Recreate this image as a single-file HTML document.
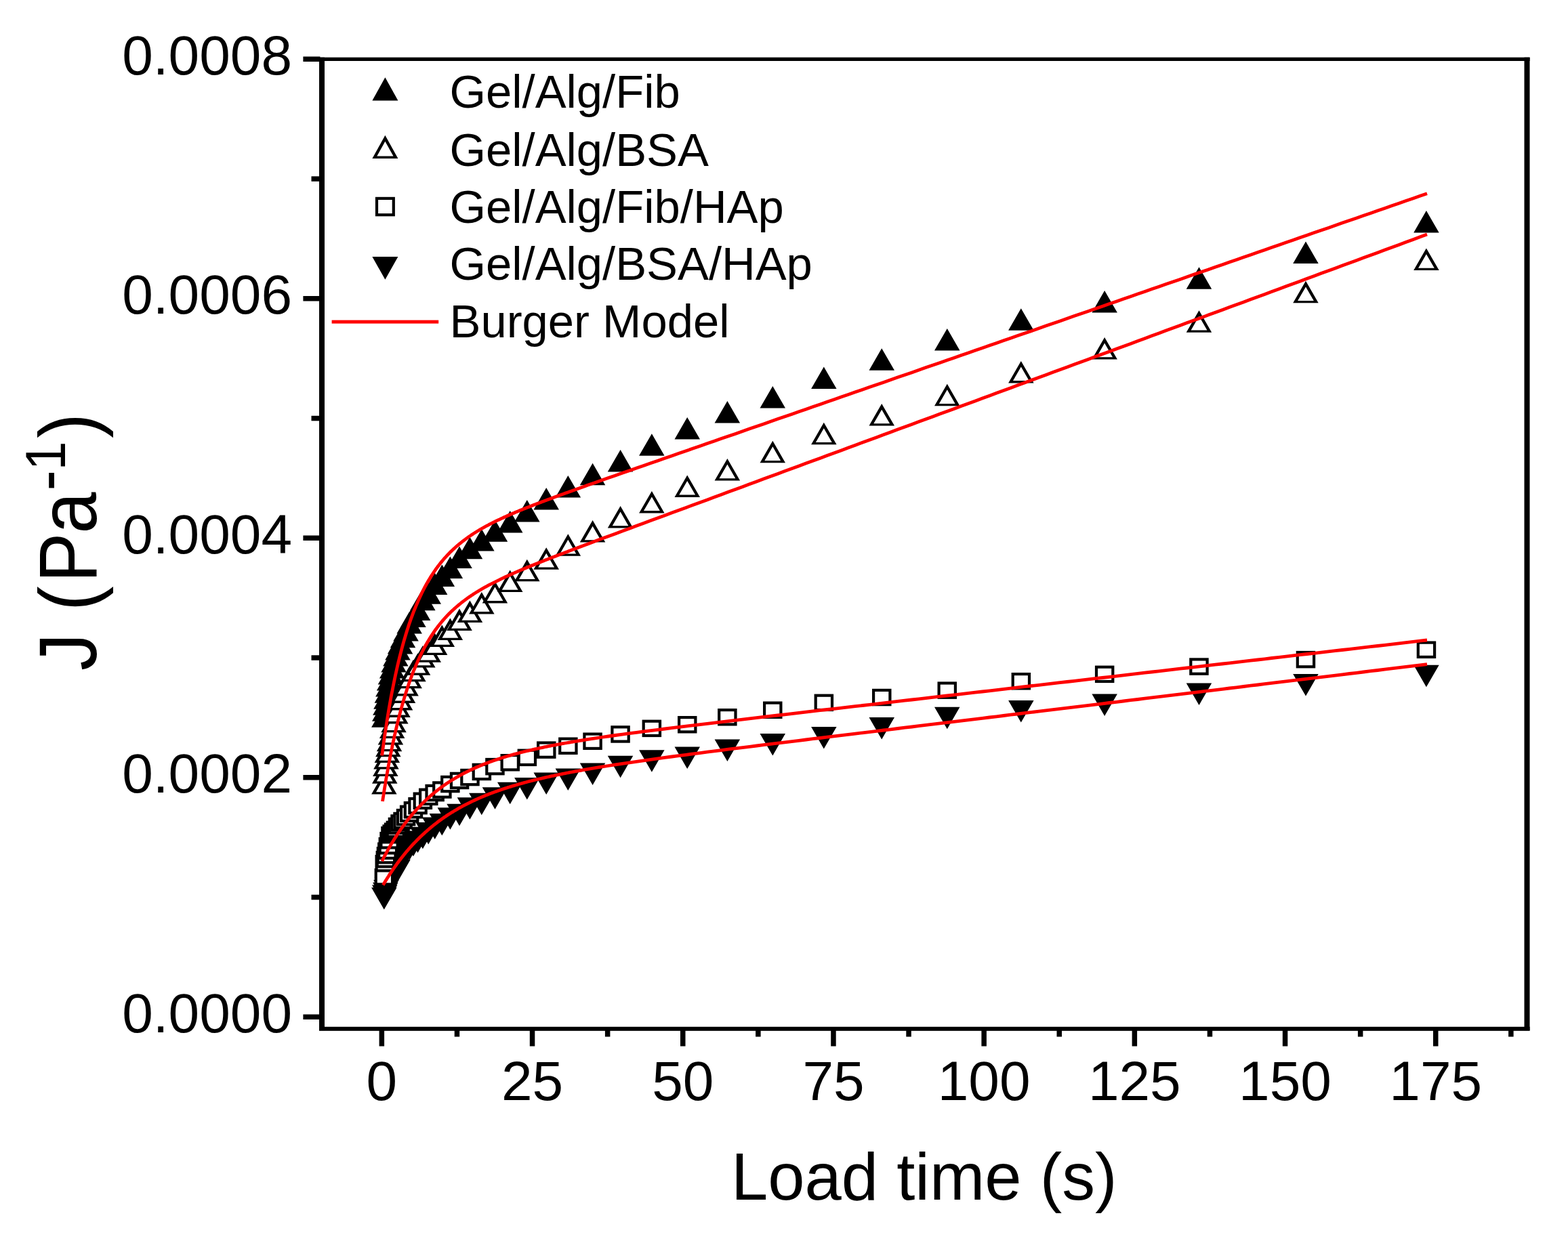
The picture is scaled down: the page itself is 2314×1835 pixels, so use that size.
<!DOCTYPE html>
<html><head><meta charset="utf-8"><style>
html,body{margin:0;padding:0;background:#fff;}
svg{display:block;}
text{font-family:"Liberation Sans",Arial,sans-serif;fill:#000;}
.tk{font-size:82px;}
.lg{font-size:68.8px;}
.xt{font-size:97.6px;}
.yt{font-size:120px;}
.sup{font-size:84px;}
</style></head><body>
<svg width="2314" height="1835" viewBox="0 0 2314 1835">
<rect width="100%" height="100%" fill="#fff"/>
<rect x="471" y="84.7" width="8" height="1436.4" fill="#000"/>
<rect x="471" y="84.7" width="1786.6" height="5.3" fill="#000"/>
<rect x="2249.5" y="84.7" width="8" height="1436.4" fill="#000"/>
<rect x="471" y="1515.8" width="1786.6" height="6" fill="#000"/>
<rect x="447.4" y="1497.5" width="25" height="7.5" fill="#000"/>
<rect x="459.5" y="1320.8" width="13" height="7.5" fill="#000"/>
<rect x="447.4" y="1144" width="25" height="7.5" fill="#000"/>
<rect x="459.5" y="967.3" width="13" height="7.5" fill="#000"/>
<rect x="447.4" y="790.5" width="25" height="7.5" fill="#000"/>
<rect x="459.5" y="613.8" width="13" height="7.5" fill="#000"/>
<rect x="447.4" y="437" width="25" height="7.5" fill="#000"/>
<rect x="459.5" y="260.3" width="13" height="7.5" fill="#000"/>
<rect x="447.4" y="83.5" width="25" height="7.5" fill="#000"/>
<rect x="559.6" y="1520" width="7.5" height="24.5" fill="#000"/>
<rect x="670.7" y="1520" width="7.5" height="10.5" fill="#000"/>
<rect x="781.8" y="1520" width="7.5" height="24.5" fill="#000"/>
<rect x="892.9" y="1520" width="7.5" height="10.5" fill="#000"/>
<rect x="1004" y="1520" width="7.5" height="24.5" fill="#000"/>
<rect x="1115.1" y="1520" width="7.5" height="10.5" fill="#000"/>
<rect x="1226.2" y="1520" width="7.5" height="24.5" fill="#000"/>
<rect x="1337.3" y="1520" width="7.5" height="10.5" fill="#000"/>
<rect x="1448.4" y="1520" width="7.5" height="24.5" fill="#000"/>
<rect x="1559.5" y="1520" width="7.5" height="10.5" fill="#000"/>
<rect x="1670.6" y="1520" width="7.5" height="24.5" fill="#000"/>
<rect x="1781.7" y="1520" width="7.5" height="10.5" fill="#000"/>
<rect x="1892.8" y="1520" width="7.5" height="24.5" fill="#000"/>
<rect x="2003.9" y="1520" width="7.5" height="10.5" fill="#000"/>
<rect x="2115" y="1520" width="7.5" height="24.5" fill="#000"/>
<rect x="2226.1" y="1520" width="7.5" height="10.5" fill="#000"/>
<text x="431" y="1523.8" text-anchor="end" class="tk">0.0000</text>
<text x="431" y="1170.3" text-anchor="end" class="tk">0.0002</text>
<text x="431" y="816.8" text-anchor="end" class="tk">0.0004</text>
<text x="431" y="463.3" text-anchor="end" class="tk">0.0006</text>
<text x="431" y="109.8" text-anchor="end" class="tk">0.0008</text>
<text x="563.4" y="1624" text-anchor="middle" class="tk">0</text>
<text x="785.6" y="1624" text-anchor="middle" class="tk">25</text>
<text x="1007.8" y="1624" text-anchor="middle" class="tk">50</text>
<text x="1230" y="1624" text-anchor="middle" class="tk">75</text>
<text x="1452.1" y="1624" text-anchor="middle" class="tk">100</text>
<text x="1674.3" y="1624" text-anchor="middle" class="tk">125</text>
<text x="1896.5" y="1624" text-anchor="middle" class="tk">150</text>
<text x="2118.7" y="1624" text-anchor="middle" class="tk">175</text>
<text x="1079" y="1771" class="xt">Load time (s)</text>
<text transform="translate(142,990) rotate(-90) scale(0.92,1)" class="yt"><tspan x="0" y="0">J </tspan><tspan x="95.6">(</tspan><tspan x="141.3">P</tspan><tspan x="219.9">a</tspan><tspan x="288.7" y="-39.5" style="font-size:100px">-</tspan><tspan x="321.3" y="-46.2" class="sup">1</tspan><tspan x="372.8" y="0">)</tspan></text>
<g><polygon points="566.8,1041.3 585.6,1073.8 548.1,1073.8" fill="#000"/><polygon points="567.8,1032.3 586.5,1064.8 549,1064.8" fill="#000"/><polygon points="568.8,1023.2 587.6,1055.7 550.1,1055.7" fill="#000"/><polygon points="570,1014.2 588.7,1046.7 551.2,1046.7" fill="#000"/><polygon points="571.3,1005.2 590.1,1037.7 552.6,1037.7" fill="#000"/><polygon points="572.8,996.1 591.6,1028.6 554.1,1028.6" fill="#000"/><polygon points="574.5,987.1 593.3,1019.6 555.8,1019.6" fill="#000"/><polygon points="576.4,978 595.2,1010.5 557.7,1010.5" fill="#000"/><polygon points="578.6,969 597.4,1001.5 559.9,1001.5" fill="#000"/><polygon points="581.1,960 599.8,992.5 562.3,992.5" fill="#000"/><polygon points="583.8,950.9 602.6,983.4 565.1,983.4" fill="#000"/><polygon points="587,941.9 605.7,974.4 568.2,974.4" fill="#000"/><polygon points="590.5,932.9 609.3,965.4 571.8,965.4" fill="#000"/><polygon points="594.5,923.7 613.3,956.2 575.8,956.2" fill="#000"/><polygon points="599.1,914 617.8,946.5 580.3,946.5" fill="#000"/><polygon points="604.2,903.1 622.9,935.6 585.4,935.6" fill="#000"/><polygon points="610,893.6 628.7,926.1 591.2,926.1" fill="#000"/><polygon points="616.5,883.6 635.3,916.1 597.8,916.1" fill="#000"/><polygon points="623.9,868.7 642.6,901.2 605.1,901.2" fill="#000"/><polygon points="632.2,859.2 651,891.7 613.5,891.7" fill="#000"/><polygon points="641.7,845.6 660.4,878.1 622.9,878.1" fill="#000"/><polygon points="652.3,833.5 671.1,866 633.6,866" fill="#000"/><polygon points="664.4,821.4 683.1,853.9 645.6,853.9" fill="#000"/><polygon points="678,806.4 696.8,838.9 659.3,838.9" fill="#000"/><polygon points="693.4,792.7 712.2,825.2 674.7,825.2" fill="#000"/><polygon points="710.8,781.1 729.6,813.6 692.1,813.6" fill="#000"/><polygon points="730.5,767.3 749.2,799.8 711.7,799.8" fill="#000"/><polygon points="752.7,753.9 771.5,786.4 734,786.4" fill="#000"/><polygon points="777.8,738 796.6,770.5 759.1,770.5" fill="#000"/><polygon points="806.2,720 825,752.5 787.5,752.5" fill="#000"/><polygon points="838.3,701.9 857.1,734.4 819.6,734.4" fill="#000"/><polygon points="874.6,683.8 893.3,716.3 855.8,716.3" fill="#000"/><polygon points="915.6,663.9 934.3,696.4 896.8,696.4" fill="#000"/><polygon points="961.9,640.3 980.6,672.8 943.1,672.8" fill="#000"/><polygon points="1014.2,616 1033,648.5 995.5,648.5" fill="#000"/><polygon points="1073.4,592.1 1092.1,624.6 1054.6,624.6" fill="#000"/><polygon points="1140.3,570.1 1159,602.6 1121.5,602.6" fill="#000"/><polygon points="1215.8,541.4 1234.6,573.9 1197.1,573.9" fill="#000"/><polygon points="1301.2,514.3 1320,546.8 1282.5,546.8" fill="#000"/><polygon points="1397.8,485 1416.5,517.5 1379,517.5" fill="#000"/><polygon points="1506.8,455.2 1525.6,487.7 1488.1,487.7" fill="#000"/><polygon points="1630.1,428.9 1648.9,461.4 1611.4,461.4" fill="#000"/><polygon points="1769.5,394.3 1788.2,426.8 1750.7,426.8" fill="#000"/><polygon points="1927,356.4 1945.7,388.9 1908.2,388.9" fill="#000"/><polygon points="2104.9,311 2123.7,343.5 2086.2,343.5" fill="#000"/></g>
<g><polygon points="566.8,1140 585.6,1172.5 548.1,1172.5" fill="#000"/><polygon points="566.8,1148.6 578.7,1169.2 555,1169.2" fill="#fff"/><polygon points="567.8,1124.2 586.5,1156.7 549,1156.7" fill="#000"/><polygon points="567.8,1132.8 579.6,1153.4 555.9,1153.4" fill="#fff"/><polygon points="568.8,1113.6 587.6,1146.1 550.1,1146.1" fill="#000"/><polygon points="568.8,1122.2 580.7,1142.8 556.9,1142.8" fill="#fff"/><polygon points="570,1103.1 588.7,1135.6 551.2,1135.6" fill="#000"/><polygon points="570,1111.7 581.9,1132.3 558.1,1132.3" fill="#fff"/><polygon points="571.3,1093.5 590.1,1126 552.6,1126" fill="#000"/><polygon points="571.3,1102.1 583.2,1122.7 559.4,1122.7" fill="#fff"/><polygon points="572.8,1084.7 591.6,1117.2 554.1,1117.2" fill="#000"/><polygon points="572.8,1093.3 584.7,1113.9 560.9,1113.9" fill="#fff"/><polygon points="574.5,1076.8 593.3,1109.3 555.8,1109.3" fill="#000"/><polygon points="574.5,1085.4 586.4,1106 562.6,1106" fill="#fff"/><polygon points="576.4,1067.1 595.2,1099.6 557.7,1099.6" fill="#000"/><polygon points="576.4,1075.7 588.3,1096.3 564.6,1096.3" fill="#fff"/><polygon points="578.6,1057.5 597.4,1090 559.9,1090" fill="#000"/><polygon points="578.6,1066.1 590.5,1086.7 566.7,1086.7" fill="#fff"/><polygon points="581.1,1048.7 599.8,1081.2 562.3,1081.2" fill="#000"/><polygon points="581.1,1057.3 593,1077.9 569.2,1077.9" fill="#fff"/><polygon points="583.8,1035.9 602.6,1068.4 565.1,1068.4" fill="#000"/><polygon points="583.8,1044.5 595.7,1065.1 572,1065.1" fill="#fff"/><polygon points="587,1026.4 605.7,1058.9 568.2,1058.9" fill="#000"/><polygon points="587,1035 598.9,1055.6 575.1,1055.6" fill="#fff"/><polygon points="590.5,1015.9 609.3,1048.4 571.8,1048.4" fill="#000"/><polygon points="590.5,1024.5 602.4,1045.1 578.6,1045.1" fill="#fff"/><polygon points="594.5,1005.4 613.3,1037.9 575.8,1037.9" fill="#000"/><polygon points="594.5,1014 606.4,1034.6 582.7,1034.6" fill="#fff"/><polygon points="599.1,994.9 617.8,1027.4 580.3,1027.4" fill="#000"/><polygon points="599.1,1003.5 610.9,1024.1 587.2,1024.1" fill="#fff"/><polygon points="604.2,983.8 622.9,1016.3 585.4,1016.3" fill="#000"/><polygon points="604.2,992.4 616.1,1013 592.3,1013" fill="#fff"/><polygon points="610,973.8 628.7,1006.3 591.2,1006.3" fill="#000"/><polygon points="610,982.4 621.8,1003 598.1,1003" fill="#fff"/><polygon points="616.5,964.3 635.3,996.8 597.8,996.8" fill="#000"/><polygon points="616.5,972.9 628.4,993.5 604.6,993.5" fill="#fff"/><polygon points="623.9,953.1 642.6,985.6 605.1,985.6" fill="#000"/><polygon points="623.9,961.7 635.8,982.3 612,982.3" fill="#fff"/><polygon points="632.2,945.3 651,977.8 613.5,977.8" fill="#000"/><polygon points="632.2,953.9 644.1,974.5 620.4,974.5" fill="#fff"/><polygon points="641.7,934.6 660.4,967.1 622.9,967.1" fill="#000"/><polygon points="641.7,943.2 653.6,963.8 629.8,963.8" fill="#fff"/><polygon points="652.3,922.5 671.1,955 633.6,955" fill="#000"/><polygon points="652.3,931.1 664.2,951.7 640.5,951.7" fill="#fff"/><polygon points="664.4,912.5 683.1,945 645.6,945" fill="#000"/><polygon points="664.4,921.1 676.3,941.7 652.5,941.7" fill="#fff"/><polygon points="678,898.6 696.8,931.1 659.3,931.1" fill="#000"/><polygon points="678,907.2 689.9,927.8 666.1,927.8" fill="#fff"/><polygon points="693.4,886.6 712.2,919.1 674.7,919.1" fill="#000"/><polygon points="693.4,895.2 705.3,915.8 681.5,915.8" fill="#fff"/><polygon points="710.8,873.9 729.6,906.4 692.1,906.4" fill="#000"/><polygon points="710.8,882.5 722.7,903.1 698.9,903.1" fill="#fff"/><polygon points="730.5,857.9 749.2,890.4 711.7,890.4" fill="#000"/><polygon points="730.5,866.5 742.4,887.1 718.6,887.1" fill="#fff"/><polygon points="752.7,841.6 771.5,874.1 734,874.1" fill="#000"/><polygon points="752.7,850.2 764.6,870.8 740.8,870.8" fill="#fff"/><polygon points="777.8,825.7 796.6,858.2 759.1,858.2" fill="#000"/><polygon points="777.8,834.3 789.7,854.9 766,854.9" fill="#fff"/><polygon points="806.2,808.2 825,840.7 787.5,840.7" fill="#000"/><polygon points="806.2,816.8 818.1,837.4 794.3,837.4" fill="#fff"/><polygon points="838.3,788.2 857.1,820.7 819.6,820.7" fill="#000"/><polygon points="838.3,796.8 850.2,817.4 826.4,817.4" fill="#fff"/><polygon points="874.6,768.1 893.3,800.6 855.8,800.6" fill="#000"/><polygon points="874.6,776.7 886.5,797.3 862.7,797.3" fill="#fff"/><polygon points="915.6,747 934.3,779.5 896.8,779.5" fill="#000"/><polygon points="915.6,755.6 927.4,776.2 903.7,776.2" fill="#fff"/><polygon points="961.9,724.9 980.6,757.4 943.1,757.4" fill="#000"/><polygon points="961.9,733.5 973.8,754.1 950,754.1" fill="#fff"/><polygon points="1014.2,701.4 1033,733.9 995.5,733.9" fill="#000"/><polygon points="1014.2,710 1026.1,730.6 1002.3,730.6" fill="#fff"/><polygon points="1073.4,677 1092.1,709.5 1054.6,709.5" fill="#000"/><polygon points="1073.4,685.6 1085.3,706.2 1061.5,706.2" fill="#fff"/><polygon points="1140.3,650.7 1159,683.2 1121.5,683.2" fill="#000"/><polygon points="1140.3,659.3 1152.1,679.9 1128.4,679.9" fill="#fff"/><polygon points="1215.8,623.7 1234.6,656.2 1197.1,656.2" fill="#000"/><polygon points="1215.8,632.3 1227.7,652.9 1203.9,652.9" fill="#fff"/><polygon points="1301.2,596.1 1320,628.6 1282.5,628.6" fill="#000"/><polygon points="1301.2,604.7 1313.1,625.3 1289.3,625.3" fill="#fff"/><polygon points="1397.8,566.7 1416.5,599.2 1379,599.2" fill="#000"/><polygon points="1397.8,575.3 1409.6,595.9 1385.9,595.9" fill="#fff"/><polygon points="1506.8,532.9 1525.6,565.4 1488.1,565.4" fill="#000"/><polygon points="1506.8,541.5 1518.7,562.1 1495,562.1" fill="#fff"/><polygon points="1630.1,498 1648.9,530.5 1611.4,530.5" fill="#000"/><polygon points="1630.1,506.6 1642,527.2 1618.3,527.2" fill="#fff"/><polygon points="1769.5,458.2 1788.2,490.7 1750.7,490.7" fill="#000"/><polygon points="1769.5,466.8 1781.4,487.4 1757.6,487.4" fill="#fff"/><polygon points="1927,414.8 1945.7,447.3 1908.2,447.3" fill="#000"/><polygon points="1927,423.4 1938.8,444 1915.1,444" fill="#fff"/><polygon points="2104.9,366.6 2123.7,399.1 2086.2,399.1" fill="#000"/><polygon points="2104.9,375.2 2116.8,395.8 2093.1,395.8" fill="#fff"/></g>
<g><polygon points="548.1,1310.2 585.6,1310.2 566.8,1342.7" fill="#000"/><polygon points="549,1306.5 586.5,1306.5 567.8,1339" fill="#000"/><polygon points="550.1,1302.7 587.6,1302.7 568.8,1335.2" fill="#000"/><polygon points="551.2,1299 588.7,1299 570,1331.5" fill="#000"/><polygon points="552.6,1295.3 590.1,1295.3 571.3,1327.8" fill="#000"/><polygon points="554.1,1291.5 591.6,1291.5 572.8,1324" fill="#000"/><polygon points="555.8,1287.8 593.3,1287.8 574.5,1320.3" fill="#000"/><polygon points="557.7,1284.1 595.2,1284.1 576.4,1316.6" fill="#000"/><polygon points="559.9,1280.3 597.4,1280.3 578.6,1312.8" fill="#000"/><polygon points="562.3,1276.6 599.8,1276.6 581.1,1309.1" fill="#000"/><polygon points="565.1,1272.9 602.6,1272.9 583.8,1305.4" fill="#000"/><polygon points="568.2,1269.1 605.7,1269.1 587,1301.6" fill="#000"/><polygon points="571.8,1257.4 609.3,1257.4 590.5,1289.9" fill="#000"/><polygon points="575.8,1247.8 613.3,1247.8 594.5,1280.3" fill="#000"/><polygon points="580.3,1242.5 617.8,1242.5 599.1,1275" fill="#000"/><polygon points="585.4,1237.5 622.9,1237.5 604.2,1270" fill="#000"/><polygon points="591.2,1231.8 628.7,1231.8 610,1264.3" fill="#000"/><polygon points="597.8,1226.6 635.3,1226.6 616.5,1259.1" fill="#000"/><polygon points="605.1,1220.7 642.6,1220.7 623.9,1253.2" fill="#000"/><polygon points="613.5,1214 651,1214 632.2,1246.5" fill="#000"/><polygon points="622.9,1206.6 660.4,1206.6 641.7,1239.1" fill="#000"/><polygon points="633.6,1200.9 671.1,1200.9 652.3,1233.4" fill="#000"/><polygon points="645.6,1192.2 683.1,1192.2 664.4,1224.7" fill="#000"/><polygon points="659.3,1186.8 696.8,1186.8 678,1219.3" fill="#000"/><polygon points="674.7,1177.2 712.2,1177.2 693.4,1209.7" fill="#000"/><polygon points="692.1,1170.8 729.6,1170.8 710.8,1203.3" fill="#000"/><polygon points="711.7,1162.3 749.2,1162.3 730.5,1194.8" fill="#000"/><polygon points="734,1154.7 771.5,1154.7 752.7,1187.2" fill="#000"/><polygon points="759.1,1147.9 796.6,1147.9 777.8,1180.4" fill="#000"/><polygon points="787.5,1140.6 825,1140.6 806.2,1173.1" fill="#000"/><polygon points="819.6,1134.6 857.1,1134.6 838.3,1167.1" fill="#000"/><polygon points="855.8,1126.6 893.3,1126.6 874.6,1159.1" fill="#000"/><polygon points="896.8,1115.7 934.3,1115.7 915.6,1148.2" fill="#000"/><polygon points="943.1,1107.3 980.6,1107.3 961.9,1139.8" fill="#000"/><polygon points="995.5,1102.5 1033,1102.5 1014.2,1135" fill="#000"/><polygon points="1054.6,1091.6 1092.1,1091.6 1073.4,1124.1" fill="#000"/><polygon points="1121.5,1083 1159,1083 1140.3,1115.5" fill="#000"/><polygon points="1197.1,1073 1234.6,1073 1215.8,1105.5" fill="#000"/><polygon points="1282.5,1059.1 1320,1059.1 1301.2,1091.6" fill="#000"/><polygon points="1379,1043.7 1416.5,1043.7 1397.8,1076.2" fill="#000"/><polygon points="1488.1,1034.1 1525.6,1034.1 1506.8,1066.6" fill="#000"/><polygon points="1611.4,1024.4 1648.9,1024.4 1630.1,1056.9" fill="#000"/><polygon points="1750.7,1008.5 1788.2,1008.5 1769.5,1041" fill="#000"/><polygon points="1908.2,995.1 1945.7,995.1 1927,1027.6" fill="#000"/><polygon points="2086.2,981.8 2123.7,981.8 2104.9,1014.3" fill="#000"/></g>
<g><rect x="552.6" y="1282" width="28.5" height="25.5" fill="#000"/><rect x="556.8" y="1286.2" width="20.1" height="17.1" fill="#fff"/><rect x="553.5" y="1262" width="28.5" height="25.5" fill="#000"/><rect x="557.7" y="1266.2" width="20.1" height="17.1" fill="#fff"/><rect x="554.6" y="1256" width="28.5" height="25.5" fill="#000"/><rect x="558.8" y="1260.2" width="20.1" height="17.1" fill="#fff"/><rect x="555.7" y="1250" width="28.5" height="25.5" fill="#000"/><rect x="559.9" y="1254.2" width="20.1" height="17.1" fill="#fff"/><rect x="557.1" y="1243.5" width="28.5" height="25.5" fill="#000"/><rect x="561.3" y="1247.7" width="20.1" height="17.1" fill="#fff"/><rect x="558.6" y="1236" width="28.5" height="25.5" fill="#000"/><rect x="562.8" y="1240.2" width="20.1" height="17.1" fill="#fff"/><rect x="560.3" y="1228" width="28.5" height="25.5" fill="#000"/><rect x="564.5" y="1232.2" width="20.1" height="17.1" fill="#fff"/><rect x="562.2" y="1220" width="28.5" height="25.5" fill="#000"/><rect x="566.4" y="1224.2" width="20.1" height="17.1" fill="#fff"/><rect x="564.4" y="1217.3" width="28.5" height="25.5" fill="#000"/><rect x="568.6" y="1221.5" width="20.1" height="17.1" fill="#fff"/><rect x="566.8" y="1214.5" width="28.5" height="25.5" fill="#000"/><rect x="571" y="1218.7" width="20.1" height="17.1" fill="#fff"/><rect x="569.6" y="1211.7" width="28.5" height="25.5" fill="#000"/><rect x="573.8" y="1215.9" width="20.1" height="17.1" fill="#fff"/><rect x="572.7" y="1206.7" width="28.5" height="25.5" fill="#000"/><rect x="576.9" y="1210.9" width="20.1" height="17.1" fill="#fff"/><rect x="576.3" y="1202.3" width="28.5" height="25.5" fill="#000"/><rect x="580.5" y="1206.5" width="20.1" height="17.1" fill="#fff"/><rect x="580.3" y="1198.8" width="28.5" height="25.5" fill="#000"/><rect x="584.5" y="1203" width="20.1" height="17.1" fill="#fff"/><rect x="584.8" y="1193.9" width="28.5" height="25.5" fill="#000"/><rect x="589" y="1198.1" width="20.1" height="17.1" fill="#fff"/><rect x="589.9" y="1188.6" width="28.5" height="25.5" fill="#000"/><rect x="594.1" y="1192.8" width="20.1" height="17.1" fill="#fff"/><rect x="595.7" y="1183" width="28.5" height="25.5" fill="#000"/><rect x="599.9" y="1187.2" width="20.1" height="17.1" fill="#fff"/><rect x="602.3" y="1176.9" width="28.5" height="25.5" fill="#000"/><rect x="606.5" y="1181.1" width="20.1" height="17.1" fill="#fff"/><rect x="609.6" y="1169.5" width="28.5" height="25.5" fill="#000"/><rect x="613.8" y="1173.7" width="20.1" height="17.1" fill="#fff"/><rect x="618" y="1163.6" width="28.5" height="25.5" fill="#000"/><rect x="622.2" y="1167.8" width="20.1" height="17.1" fill="#fff"/><rect x="627.4" y="1157.8" width="28.5" height="25.5" fill="#000"/><rect x="631.6" y="1162" width="20.1" height="17.1" fill="#fff"/><rect x="638.1" y="1153.3" width="28.5" height="25.5" fill="#000"/><rect x="642.3" y="1157.5" width="20.1" height="17.1" fill="#fff"/><rect x="650.1" y="1144.8" width="28.5" height="25.5" fill="#000"/><rect x="654.3" y="1149" width="20.1" height="17.1" fill="#fff"/><rect x="663.8" y="1139.7" width="28.5" height="25.5" fill="#000"/><rect x="668" y="1143.9" width="20.1" height="17.1" fill="#fff"/><rect x="679.2" y="1134.8" width="28.5" height="25.5" fill="#000"/><rect x="683.4" y="1139" width="20.1" height="17.1" fill="#fff"/><rect x="696.6" y="1126.7" width="28.5" height="25.5" fill="#000"/><rect x="700.8" y="1130.9" width="20.1" height="17.1" fill="#fff"/><rect x="716.2" y="1118.9" width="28.5" height="25.5" fill="#000"/><rect x="720.4" y="1123.1" width="20.1" height="17.1" fill="#fff"/><rect x="738.5" y="1113" width="28.5" height="25.5" fill="#000"/><rect x="742.7" y="1117.2" width="20.1" height="17.1" fill="#fff"/><rect x="763.6" y="1105.6" width="28.5" height="25.5" fill="#000"/><rect x="767.8" y="1109.8" width="20.1" height="17.1" fill="#fff"/><rect x="792" y="1094.4" width="28.5" height="25.5" fill="#000"/><rect x="796.2" y="1098.6" width="20.1" height="17.1" fill="#fff"/><rect x="824.1" y="1088.5" width="28.5" height="25.5" fill="#000"/><rect x="828.3" y="1092.7" width="20.1" height="17.1" fill="#fff"/><rect x="860.3" y="1081.5" width="28.5" height="25.5" fill="#000"/><rect x="864.5" y="1085.7" width="20.1" height="17.1" fill="#fff"/><rect x="901.3" y="1071.2" width="28.5" height="25.5" fill="#000"/><rect x="905.5" y="1075.4" width="20.1" height="17.1" fill="#fff"/><rect x="947.6" y="1062.6" width="28.5" height="25.5" fill="#000"/><rect x="951.8" y="1066.8" width="20.1" height="17.1" fill="#fff"/><rect x="1000" y="1057" width="28.5" height="25.5" fill="#000"/><rect x="1004.2" y="1061.2" width="20.1" height="17.1" fill="#fff"/><rect x="1059.1" y="1046" width="28.5" height="25.5" fill="#000"/><rect x="1063.3" y="1050.2" width="20.1" height="17.1" fill="#fff"/><rect x="1126" y="1035.5" width="28.5" height="25.5" fill="#000"/><rect x="1130.2" y="1039.7" width="20.1" height="17.1" fill="#fff"/><rect x="1201.6" y="1024.6" width="28.5" height="25.5" fill="#000"/><rect x="1205.8" y="1028.8" width="20.1" height="17.1" fill="#fff"/><rect x="1287" y="1016.8" width="28.5" height="25.5" fill="#000"/><rect x="1291.2" y="1021" width="20.1" height="17.1" fill="#fff"/><rect x="1383.5" y="1006.4" width="28.5" height="25.5" fill="#000"/><rect x="1387.7" y="1010.6" width="20.1" height="17.1" fill="#fff"/><rect x="1492.6" y="993" width="28.5" height="25.5" fill="#000"/><rect x="1496.8" y="997.2" width="20.1" height="17.1" fill="#fff"/><rect x="1615.9" y="982.6" width="28.5" height="25.5" fill="#000"/><rect x="1620.1" y="986.8" width="20.1" height="17.1" fill="#fff"/><rect x="1755.2" y="971.3" width="28.5" height="25.5" fill="#000"/><rect x="1759.4" y="975.5" width="20.1" height="17.1" fill="#fff"/><rect x="1912.7" y="960.9" width="28.5" height="25.5" fill="#000"/><rect x="1916.9" y="965.1" width="20.1" height="17.1" fill="#fff"/><rect x="2090.7" y="946.5" width="28.5" height="25.5" fill="#000"/><rect x="2094.9" y="950.7" width="20.1" height="17.1" fill="#fff"/></g>
<path d="M563.7,1115.5 L564.2,1111.7 L564.7,1107.9 L565.2,1104.1 L565.7,1100.4 L566.2,1096.8 L566.7,1093.2 L567.2,1089.6 L567.7,1086.2 L568.2,1082.7 L568.8,1079.3 L569.3,1076 L569.8,1072.6 L570.3,1069.4 L570.8,1066.1 L571.3,1063 L571.8,1059.8 L572.3,1056.7 L572.8,1053.7 L573.3,1050.6 L573.8,1047.7 L574.3,1044.7 L574.8,1041.8 L575.3,1038.9 L575.8,1036.1 L576.3,1033.3 L576.8,1030.5 L577.3,1027.8 L577.8,1025.1 L578.3,1022.4 L578.9,1019.8 L579.4,1017.2 L579.9,1014.6 L580.4,1012.1 L580.9,1009.6 L581.4,1007.1 L581.9,1004.7 L582.4,1002.3 L582.9,999.9 L583.4,997.5 L583.9,995.2 L584.9,990.7 L585.9,986.2 L586.9,981.9 L587.9,977.6 L588.9,973.5 L589.9,969.4 L590.9,965.5 L591.9,961.6 L592.9,957.8 L593.9,954.1 L594.9,950.5 L595.9,946.9 L596.9,943.5 L597.9,940.1 L598.9,936.7 L599.9,933.5 L600.9,930.3 L601.9,927.2 L602.9,924.1 L603.9,921.1 L604.9,918.2 L605.9,915.3 L606.9,912.5 L607.9,909.8 L608.9,907.1 L609.9,904.4 L610.9,901.9 L612,899.3 L613,896.8 L614,894.4 L615,892 L616,889.7 L617,887.4 L618,885.1 L619,882.9 L620,880.7 L621,878.6 L622,876.5 L623,874.5 L624,872.5 L625,870.5 L626,868.6 L627,866.7 L628,864.8 L629,863 L630,861.2 L631,859.5 L632,857.7 L633,856 L634,854.4 L635,852.7 L636,851.1 L637,849.5 L638,848 L639,846.5 L640,845 L641,843.5 L642,842.1 L643,840.6 L644,839.2 L645,837.9 L646,836.5 L647,835.2 L648,833.9 L649,832.6 L650,831.3 L651,830.1 L652,828.9 L653,827.7 L654,826.5 L655,825.3 L656,824.2 L657,823.1 L658,822 L659,820.9 L660,819.8 L661,818.7 L662,817.7 L663,816.7 L664,815.6 L665,814.6 L666,813.7 L667,812.7 L668.1,811.7 L669.1,810.8 L670.1,809.9 L671.1,808.9 L672.1,808 L673.1,807.2 L674.1,806.3 L675.1,805.4 L676.1,804.6 L677.1,803.7 L678.1,802.9 L679.1,802.1 L680.1,801.3 L681.1,800.5 L682.1,799.7 L683.1,798.9 L684.1,798.1 L685.1,797.3 L686.1,796.6 L687.1,795.9 L688.1,795.1 L689.1,794.4 L690.1,793.7 L691.1,793 L692.1,792.3 L693.1,791.6 L694.1,790.9 L695.1,790.2 L696.1,789.5 L697.1,788.9 L698.1,788.2 L699.1,787.6 L700.1,786.9 L701.1,786.3 L702.1,785.7 L703.1,785.1 L704.1,784.4 L705.1,783.8 L706.1,783.2 L707.1,782.6 L708.1,782 L709.1,781.4 L710.1,780.9 L711.1,780.3 L712.1,779.7 L713.1,779.1 L714.1,778.6 L715.1,778 L716.1,777.5 L717.1,776.9 L718.1,776.4 L719.1,775.8 L720.1,775.3 L721.1,774.8 L722.1,774.2 L723.1,773.7 L724.2,773.2 L725.2,772.7 L726.2,772.2 L727.2,771.7 L728.2,771.2 L729.2,770.7 L730.2,770.2 L731.2,769.7 L732.2,769.2 L733.2,768.7 L734.2,768.2 L735.2,767.7 L736.2,767.3 L737.2,766.8 L738.2,766.3 L739.2,765.8 L740.2,765.4 L741.2,764.9 L742.2,764.5 L743.2,764 L744.2,763.5 L745.2,763.1 L746.2,762.6 L747.2,762.2 L748.2,761.7 L749.2,761.3 L750.2,760.8 L751.2,760.4 L752.2,760 L753.2,759.5 L754.2,759.1 L755.2,758.7 L756.2,758.2 L757.2,757.8 L758.2,757.4 L759.2,757 L760.2,756.5 L761.2,756.1 L762.2,755.7 L763.2,755.3 L764.2,754.9 L765.2,754.4 L766.2,754 L767.2,753.6 L768.2,753.2 L769.2,752.8 L770.2,752.4 L771.2,752 L772.2,751.6 L773.2,751.2 L774.2,750.8 L775.2,750.4 L776.2,750 L777.2,749.6 L778.2,749.2 L779.2,748.8 L780.3,748.4 L781.3,748 L782.3,747.6 L783.3,747.2 L784.3,746.8 L785.3,746.4 L786.3,746 L787.3,745.6 L788.3,745.2 L789.3,744.8 L790.3,744.5 L791.3,744.1 L792.3,743.7 L793.3,743.3 L794.3,742.9 L795.3,742.5 L796.3,742.2 L797.3,741.8 L798.3,741.4 L799.3,741 L800.3,740.6 L801.3,740.3 L802.3,739.9 L803.3,739.5 L804.3,739.1 L805.3,738.8 L806.3,738.4 L807.3,738 L808.3,737.6 L809.3,737.3 L810.3,736.9 L811.3,736.5 L812.3,736.2 L813.3,735.8 L814.3,735.4 L815.3,735 L816.3,734.7 L817.3,734.3 L818.3,733.9 L819.3,733.6 L820.3,733.2 L821.3,732.8 L822.3,732.5 L823.3,732.1 L824.3,731.7 L825.3,731.4 L826.3,731 L827.3,730.6 L828.3,730.3 L829.3,729.9 L830.3,729.5 L831.3,729.2 L832.3,728.8 L833.3,728.5 L834.3,728.1 L835.3,727.7 L836.4,727.4 L837.4,727 L838.4,726.7 L839.4,726.3 L840.4,725.9 L841.4,725.6 L842.4,725.2 L843.4,724.9 L844.4,724.5 L845.4,724.1 L846.4,723.8 L847.4,723.4 L848.4,723.1 L849.4,722.7 L850.4,722.3 L851.4,722 L852.4,721.6 L853.4,721.3 L854.4,720.9 L855.4,720.6 L856.4,720.2 L857.4,719.8 L858.4,719.5 L859.4,719.1 L860.4,718.8 L861.4,718.4 L862.4,718.1 L863.4,717.7 L866.4,716.6 L876.8,713 L887.2,709.3 L897.7,705.6 L908.1,702 L918.5,698.3 L928.9,694.7 L939.3,691.1 L949.7,687.4 L960.2,683.8 L970.6,680.2 L981,676.6 L991.4,672.9 L1001.8,669.3 L1012.2,665.7 L1022.7,662.1 L1033.1,658.5 L1043.5,654.8 L1053.9,651.2 L1064.3,647.6 L1074.7,644 L1085.2,640.4 L1095.6,636.7 L1106,633.1 L1116.4,629.5 L1126.8,625.9 L1137.2,622.3 L1147.7,618.6 L1158.1,615 L1168.5,611.4 L1178.9,607.8 L1189.3,604.2 L1199.7,600.5 L1210.2,596.9 L1220.6,593.3 L1231,589.7 L1241.4,586.1 L1251.8,582.5 L1262.2,578.8 L1272.7,575.2 L1283.1,571.6 L1293.5,568 L1303.9,564.4 L1314.3,560.7 L1324.7,557.1 L1335.2,553.5 L1345.6,549.9 L1356,546.3 L1366.4,542.6 L1376.8,539 L1387.2,535.4 L1397.7,531.8 L1408.1,528.2 L1418.5,524.6 L1428.9,520.9 L1439.3,517.3 L1449.7,513.7 L1460.2,510.1 L1470.6,506.5 L1481,502.8 L1491.4,499.2 L1501.8,495.6 L1512.2,492 L1522.7,488.4 L1533.1,484.7 L1543.5,481.1 L1553.9,477.5 L1564.3,473.9 L1574.7,470.3 L1585.2,466.6 L1595.6,463 L1606,459.4 L1616.4,455.8 L1626.8,452.2 L1637.2,448.6 L1647.7,444.9 L1658.1,441.3 L1668.5,437.7 L1678.9,434.1 L1689.3,430.5 L1699.7,426.8 L1710.2,423.2 L1720.6,419.6 L1731,416 L1741.4,412.4 L1751.8,408.7 L1762.2,405.1 L1772.7,401.5 L1783.1,397.9 L1793.5,394.3 L1803.9,390.7 L1814.3,387 L1824.7,383.4 L1835.2,379.8 L1845.6,376.2 L1856,372.6 L1866.4,368.9 L1876.8,365.3 L1887.2,361.7 L1897.7,358.1 L1908.1,354.5 L1918.5,350.8 L1928.9,347.2 L1939.3,343.6 L1949.7,340 L1960.2,336.4 L1970.6,332.8 L1981,329.1 L1991.4,325.5 L2001.8,321.9 L2012.2,318.3 L2022.7,314.7 L2033.1,311 L2043.5,307.4 L2053.9,303.8 L2064.3,300.2 L2074.7,296.6 L2085.2,292.9 L2095.6,289.3 L2106,285.7" fill="none" stroke="#ff0000" stroke-width="4.8"/>
<path d="M564.5,1183 L565,1179.8 L565.5,1176.7 L566,1173.6 L566.4,1170.5 L566.9,1167.5 L567.4,1164.5 L567.9,1161.5 L568.4,1158.6 L568.9,1155.7 L569.3,1152.8 L569.8,1149.9 L570.3,1147.1 L570.8,1144.3 L571.3,1141.6 L571.8,1138.8 L572.3,1136.1 L572.7,1133.4 L573.2,1130.8 L573.7,1128.2 L574.2,1125.6 L574.7,1123 L575.2,1120.5 L575.6,1117.9 L576.1,1115.5 L576.6,1113 L577.1,1110.5 L577.6,1108.1 L578.1,1105.7 L578.6,1103.4 L579,1101 L579.5,1098.7 L580,1096.4 L580.5,1094.2 L581,1091.9 L581.5,1089.7 L581.9,1087.5 L582.4,1085.3 L582.9,1083.2 L583.4,1081 L583.9,1078.9 L584.9,1074.6 L585.9,1070.4 L586.9,1066.3 L587.9,1062.2 L588.9,1058.3 L589.9,1054.4 L590.9,1050.6 L591.9,1046.9 L592.9,1043.3 L593.9,1039.7 L594.9,1036.3 L595.9,1032.8 L596.9,1029.5 L597.9,1026.2 L598.9,1023 L599.9,1019.9 L600.9,1016.8 L601.9,1013.8 L602.9,1010.8 L603.9,1007.9 L604.9,1005.1 L605.9,1002.3 L606.9,999.6 L607.9,996.9 L608.9,994.3 L609.9,991.7 L610.9,989.2 L612,986.7 L613,984.3 L614,981.9 L615,979.6 L616,977.3 L617,975.1 L618,972.9 L619,970.7 L620,968.6 L621,966.5 L622,964.5 L623,962.5 L624,960.5 L625,958.6 L626,956.7 L627,954.9 L628,953 L629,951.3 L630,949.5 L631,947.8 L632,946.1 L633,944.4 L634,942.8 L635,941.2 L636,939.6 L637,938.1 L638,936.6 L639,935.1 L640,933.6 L641,932.1 L642,930.7 L643,929.3 L644,928 L645,926.6 L646,925.3 L647,924 L648,922.7 L649,921.4 L650,920.2 L651,919 L652,917.8 L653,916.6 L654,915.4 L655,914.3 L656,913.2 L657,912 L658,911 L659,909.9 L660,908.8 L661,907.8 L662,906.7 L663,905.7 L664,904.7 L665,903.7 L666,902.8 L667,901.8 L668.1,900.9 L669.1,899.9 L670.1,899 L671.1,898.1 L672.1,897.2 L673.1,896.3 L674.1,895.5 L675.1,894.6 L676.1,893.8 L677.1,892.9 L678.1,892.1 L679.1,891.3 L680.1,890.5 L681.1,889.7 L682.1,888.9 L683.1,888.1 L684.1,887.4 L685.1,886.6 L686.1,885.9 L687.1,885.1 L688.1,884.4 L689.1,883.7 L690.1,882.9 L691.1,882.2 L692.1,881.5 L693.1,880.8 L694.1,880.2 L695.1,879.5 L696.1,878.8 L697.1,878.2 L698.1,877.5 L699.1,876.8 L700.1,876.2 L701.1,875.6 L702.1,874.9 L703.1,874.3 L704.1,873.7 L705.1,873.1 L706.1,872.5 L707.1,871.9 L708.1,871.3 L709.1,870.7 L710.1,870.1 L711.1,869.5 L712.1,868.9 L713.1,868.4 L714.1,867.8 L715.1,867.2 L716.1,866.7 L717.1,866.1 L718.1,865.6 L719.1,865 L720.1,864.5 L721.1,863.9 L722.1,863.4 L723.1,862.9 L724.2,862.3 L725.2,861.8 L726.2,861.3 L727.2,860.8 L728.2,860.3 L729.2,859.8 L730.2,859.3 L731.2,858.8 L732.2,858.3 L733.2,857.8 L734.2,857.3 L735.2,856.8 L736.2,856.3 L737.2,855.8 L738.2,855.3 L739.2,854.8 L740.2,854.4 L741.2,853.9 L742.2,853.4 L743.2,852.9 L744.2,852.5 L745.2,852 L746.2,851.5 L747.2,851.1 L748.2,850.6 L749.2,850.2 L750.2,849.7 L751.2,849.2 L752.2,848.8 L753.2,848.3 L754.2,847.9 L755.2,847.5 L756.2,847 L757.2,846.6 L758.2,846.1 L759.2,845.7 L760.2,845.2 L761.2,844.8 L762.2,844.4 L763.2,843.9 L764.2,843.5 L765.2,843.1 L766.2,842.7 L767.2,842.2 L768.2,841.8 L769.2,841.4 L770.2,840.9 L771.2,840.5 L772.2,840.1 L773.2,839.7 L774.2,839.3 L775.2,838.8 L776.2,838.4 L777.2,838 L778.2,837.6 L779.2,837.2 L780.3,836.8 L781.3,836.4 L782.3,836 L783.3,835.5 L784.3,835.1 L785.3,834.7 L786.3,834.3 L787.3,833.9 L788.3,833.5 L789.3,833.1 L790.3,832.7 L791.3,832.3 L792.3,831.9 L793.3,831.5 L794.3,831.1 L795.3,830.7 L796.3,830.3 L797.3,829.9 L798.3,829.5 L799.3,829.1 L800.3,828.7 L801.3,828.3 L802.3,827.9 L803.3,827.5 L804.3,827.1 L805.3,826.7 L806.3,826.3 L807.3,825.9 L808.3,825.6 L809.3,825.2 L810.3,824.8 L811.3,824.4 L812.3,824 L813.3,823.6 L814.3,823.2 L815.3,822.8 L816.3,822.4 L817.3,822 L818.3,821.7 L819.3,821.3 L820.3,820.9 L821.3,820.5 L822.3,820.1 L823.3,819.7 L824.3,819.3 L825.3,819 L826.3,818.6 L827.3,818.2 L828.3,817.8 L829.3,817.4 L830.3,817 L831.3,816.7 L832.3,816.3 L833.3,815.9 L834.3,815.5 L835.3,815.1 L836.4,814.8 L837.4,814.4 L838.4,814 L839.4,813.6 L840.4,813.2 L841.4,812.8 L842.4,812.5 L843.4,812.1 L844.4,811.7 L845.4,811.3 L846.4,811 L847.4,810.6 L848.4,810.2 L849.4,809.8 L850.4,809.4 L851.4,809.1 L852.4,808.7 L853.4,808.3 L854.4,807.9 L855.4,807.6 L856.4,807.2 L857.4,806.8 L858.4,806.4 L859.4,806 L860.4,805.7 L861.4,805.3 L862.4,804.9 L863.4,804.5 L866.4,803.4 L876.8,799.5 L887.2,795.6 L897.7,791.8 L908.1,787.9 L918.5,784 L928.9,780.2 L939.3,776.3 L949.7,772.5 L960.2,768.6 L970.6,764.8 L981,760.9 L991.4,757.1 L1001.8,753.2 L1012.2,749.4 L1022.7,745.5 L1033.1,741.7 L1043.5,737.9 L1053.9,734 L1064.3,730.2 L1074.7,726.3 L1085.2,722.5 L1095.6,718.7 L1106,714.8 L1116.4,711 L1126.8,707.1 L1137.2,703.3 L1147.7,699.4 L1158.1,695.6 L1168.5,691.8 L1178.9,687.9 L1189.3,684.1 L1199.7,680.2 L1210.2,676.4 L1220.6,672.5 L1231,668.7 L1241.4,664.9 L1251.8,661 L1262.2,657.2 L1272.7,653.3 L1283.1,649.5 L1293.5,645.7 L1303.9,641.8 L1314.3,638 L1324.7,634.1 L1335.2,630.3 L1345.6,626.4 L1356,622.6 L1366.4,618.8 L1376.8,614.9 L1387.2,611.1 L1397.7,607.2 L1408.1,603.4 L1418.5,599.6 L1428.9,595.7 L1439.3,591.9 L1449.7,588 L1460.2,584.2 L1470.6,580.3 L1481,576.5 L1491.4,572.7 L1501.8,568.8 L1512.2,565 L1522.7,561.1 L1533.1,557.3 L1543.5,553.5 L1553.9,549.6 L1564.3,545.8 L1574.7,541.9 L1585.2,538.1 L1595.6,534.2 L1606,530.4 L1616.4,526.6 L1626.8,522.7 L1637.2,518.9 L1647.7,515 L1658.1,511.2 L1668.5,507.4 L1678.9,503.5 L1689.3,499.7 L1699.7,495.8 L1710.2,492 L1720.6,488.1 L1731,484.3 L1741.4,480.5 L1751.8,476.6 L1762.2,472.8 L1772.7,468.9 L1783.1,465.1 L1793.5,461.3 L1803.9,457.4 L1814.3,453.6 L1824.7,449.7 L1835.2,445.9 L1845.6,442 L1856,438.2 L1866.4,434.4 L1876.8,430.5 L1887.2,426.7 L1897.7,422.8 L1908.1,419 L1918.5,415.2 L1928.9,411.3 L1939.3,407.5 L1949.7,403.6 L1960.2,399.8 L1970.6,395.9 L1981,392.1 L1991.4,388.3 L2001.8,384.4 L2012.2,380.6 L2022.7,376.7 L2033.1,372.9 L2043.5,369.1 L2053.9,365.2 L2064.3,361.4 L2074.7,357.5 L2085.2,353.7 L2095.6,349.8 L2106,346" fill="none" stroke="#ff0000" stroke-width="4.8"/>
<path d="M563.7,1271.2 L564.2,1270.2 L564.7,1269.2 L565.2,1268.2 L565.7,1267.3 L566.2,1266.3 L566.7,1265.3 L567.2,1264.4 L567.7,1263.4 L568.2,1262.4 L568.8,1261.5 L569.3,1260.6 L569.8,1259.6 L570.3,1258.7 L570.8,1257.8 L571.3,1256.9 L571.8,1256 L572.3,1255 L572.8,1254.1 L573.3,1253.2 L573.8,1252.4 L574.3,1251.5 L574.8,1250.6 L575.3,1249.7 L575.8,1248.9 L576.3,1248 L576.8,1247.1 L577.3,1246.3 L577.8,1245.4 L578.3,1244.6 L578.9,1243.7 L579.4,1242.9 L579.9,1242.1 L580.4,1241.3 L580.9,1240.4 L581.4,1239.6 L581.9,1238.8 L582.4,1238 L582.9,1237.2 L583.4,1236.4 L583.9,1235.6 L584.9,1234.1 L585.9,1232.5 L586.9,1231 L587.9,1229.5 L588.9,1228 L589.9,1226.6 L590.9,1225.1 L591.9,1223.7 L592.9,1222.3 L593.9,1220.9 L594.9,1219.5 L595.9,1218.1 L596.9,1216.8 L597.9,1215.4 L598.9,1214.1 L599.9,1212.8 L600.9,1211.5 L601.9,1210.2 L602.9,1209 L603.9,1207.7 L604.9,1206.5 L605.9,1205.3 L606.9,1204.1 L607.9,1202.9 L608.9,1201.7 L609.9,1200.5 L610.9,1199.4 L612,1198.3 L613,1197.1 L614,1196 L615,1194.9 L616,1193.8 L617,1192.7 L618,1191.7 L619,1190.6 L620,1189.6 L621,1188.6 L622,1187.5 L623,1186.5 L624,1185.5 L625,1184.6 L626,1183.6 L627,1182.6 L628,1181.7 L629,1180.7 L630,1179.8 L631,1178.9 L632,1178 L633,1177.1 L634,1176.2 L635,1175.3 L636,1174.4 L637,1173.6 L638,1172.7 L639,1171.9 L640,1171 L641,1170.2 L642,1169.4 L643,1168.6 L644,1167.8 L645,1167 L646,1166.2 L647,1165.5 L648,1164.7 L649,1163.9 L650,1163.2 L651,1162.5 L652,1161.7 L653,1161 L654,1160.3 L655,1159.6 L656,1158.9 L657,1158.2 L658,1157.5 L659,1156.8 L660,1156.1 L661,1155.5 L662,1154.8 L663,1154.2 L664,1153.5 L665,1152.9 L666,1152.2 L667,1151.6 L668.1,1151 L669.1,1150.4 L670.1,1149.8 L671.1,1149.2 L672.1,1148.6 L673.1,1148 L674.1,1147.4 L675.1,1146.8 L676.1,1146.3 L677.1,1145.7 L678.1,1145.1 L679.1,1144.6 L680.1,1144 L681.1,1143.5 L682.1,1142.9 L683.1,1142.4 L684.1,1141.9 L685.1,1141.4 L686.1,1140.8 L687.1,1140.3 L688.1,1139.8 L689.1,1139.3 L690.1,1138.8 L691.1,1138.3 L692.1,1137.8 L693.1,1137.4 L694.1,1136.9 L695.1,1136.4 L696.1,1135.9 L697.1,1135.5 L698.1,1135 L699.1,1134.6 L700.1,1134.1 L701.1,1133.7 L702.1,1133.2 L703.1,1132.8 L704.1,1132.3 L705.1,1131.9 L706.1,1131.5 L707.1,1131.1 L708.1,1130.6 L709.1,1130.2 L710.1,1129.8 L711.1,1129.4 L712.1,1129 L713.1,1128.6 L714.1,1128.2 L715.1,1127.8 L716.1,1127.4 L717.1,1127 L718.1,1126.6 L719.1,1126.3 L720.1,1125.9 L721.1,1125.5 L722.1,1125.1 L723.1,1124.8 L724.2,1124.4 L725.2,1124.1 L726.2,1123.7 L727.2,1123.3 L728.2,1123 L729.2,1122.6 L730.2,1122.3 L731.2,1121.9 L732.2,1121.6 L733.2,1121.3 L734.2,1120.9 L735.2,1120.6 L736.2,1120.3 L737.2,1119.9 L738.2,1119.6 L739.2,1119.3 L740.2,1119 L741.2,1118.7 L742.2,1118.4 L743.2,1118 L744.2,1117.7 L745.2,1117.4 L746.2,1117.1 L747.2,1116.8 L748.2,1116.5 L749.2,1116.2 L750.2,1115.9 L751.2,1115.6 L752.2,1115.4 L753.2,1115.1 L754.2,1114.8 L755.2,1114.5 L756.2,1114.2 L757.2,1113.9 L758.2,1113.7 L759.2,1113.4 L760.2,1113.1 L761.2,1112.8 L762.2,1112.6 L763.2,1112.3 L764.2,1112 L765.2,1111.8 L766.2,1111.5 L767.2,1111.2 L768.2,1111 L769.2,1110.7 L770.2,1110.5 L771.2,1110.2 L772.2,1110 L773.2,1109.7 L774.2,1109.5 L775.2,1109.2 L776.2,1109 L777.2,1108.7 L778.2,1108.5 L779.2,1108.3 L780.3,1108 L781.3,1107.8 L782.3,1107.6 L783.3,1107.3 L784.3,1107.1 L785.3,1106.9 L786.3,1106.6 L787.3,1106.4 L788.3,1106.2 L789.3,1105.9 L790.3,1105.7 L791.3,1105.5 L792.3,1105.3 L793.3,1105.1 L794.3,1104.8 L795.3,1104.6 L796.3,1104.4 L797.3,1104.2 L798.3,1104 L799.3,1103.8 L800.3,1103.6 L801.3,1103.4 L802.3,1103.1 L803.3,1102.9 L804.3,1102.7 L805.3,1102.5 L806.3,1102.3 L807.3,1102.1 L808.3,1101.9 L809.3,1101.7 L810.3,1101.5 L811.3,1101.3 L812.3,1101.1 L813.3,1100.9 L814.3,1100.7 L815.3,1100.5 L816.3,1100.3 L817.3,1100.1 L818.3,1100 L819.3,1099.8 L820.3,1099.6 L821.3,1099.4 L822.3,1099.2 L823.3,1099 L824.3,1098.8 L825.3,1098.6 L826.3,1098.5 L827.3,1098.3 L828.3,1098.1 L829.3,1097.9 L830.3,1097.7 L831.3,1097.5 L832.3,1097.4 L833.3,1097.2 L834.3,1097 L835.3,1096.8 L836.4,1096.7 L837.4,1096.5 L838.4,1096.3 L839.4,1096.1 L840.4,1096 L841.4,1095.8 L842.4,1095.6 L843.4,1095.4 L844.4,1095.3 L845.4,1095.1 L846.4,1094.9 L847.4,1094.8 L848.4,1094.6 L849.4,1094.4 L850.4,1094.3 L851.4,1094.1 L852.4,1093.9 L853.4,1093.8 L854.4,1093.6 L855.4,1093.4 L856.4,1093.3 L857.4,1093.1 L858.4,1093 L859.4,1092.8 L860.4,1092.6 L861.4,1092.5 L862.4,1092.3 L863.4,1092.2 L866.4,1091.7 L876.8,1090.1 L887.2,1088.5 L897.7,1087 L908.1,1085.5 L918.5,1084.1 L928.9,1082.7 L939.3,1081.3 L949.7,1079.9 L960.2,1078.6 L970.6,1077.3 L981,1076 L991.4,1074.7 L1001.8,1073.4 L1012.2,1072.1 L1022.7,1070.8 L1033.1,1069.6 L1043.5,1068.3 L1053.9,1067.1 L1064.3,1065.8 L1074.7,1064.6 L1085.2,1063.3 L1095.6,1062.1 L1106,1060.9 L1116.4,1059.7 L1126.8,1058.4 L1137.2,1057.2 L1147.7,1056 L1158.1,1054.8 L1168.5,1053.6 L1178.9,1052.4 L1189.3,1051.1 L1199.7,1049.9 L1210.2,1048.7 L1220.6,1047.5 L1231,1046.3 L1241.4,1045.1 L1251.8,1043.9 L1262.2,1042.7 L1272.7,1041.5 L1283.1,1040.3 L1293.5,1039.1 L1303.9,1037.8 L1314.3,1036.6 L1324.7,1035.4 L1335.2,1034.2 L1345.6,1033 L1356,1031.8 L1366.4,1030.6 L1376.8,1029.4 L1387.2,1028.2 L1397.7,1027 L1408.1,1025.8 L1418.5,1024.6 L1428.9,1023.4 L1439.3,1022.2 L1449.7,1021 L1460.2,1019.8 L1470.6,1018.6 L1481,1017.3 L1491.4,1016.1 L1501.8,1014.9 L1512.2,1013.7 L1522.7,1012.5 L1533.1,1011.3 L1543.5,1010.1 L1553.9,1008.9 L1564.3,1007.7 L1574.7,1006.5 L1585.2,1005.3 L1595.6,1004.1 L1606,1002.9 L1616.4,1001.7 L1626.8,1000.5 L1637.2,999.3 L1647.7,998.1 L1658.1,996.9 L1668.5,995.6 L1678.9,994.4 L1689.3,993.2 L1699.7,992 L1710.2,990.8 L1720.6,989.6 L1731,988.4 L1741.4,987.2 L1751.8,986 L1762.2,984.8 L1772.7,983.6 L1783.1,982.4 L1793.5,981.2 L1803.9,980 L1814.3,978.8 L1824.7,977.6 L1835.2,976.4 L1845.6,975.2 L1856,974 L1866.4,972.8 L1876.8,971.5 L1887.2,970.3 L1897.7,969.1 L1908.1,967.9 L1918.5,966.7 L1928.9,965.5 L1939.3,964.3 L1949.7,963.1 L1960.2,961.9 L1970.6,960.7 L1981,959.5 L1991.4,958.3 L2001.8,957.1 L2012.2,955.9 L2022.7,954.7 L2033.1,953.5 L2043.5,952.3 L2053.9,951.1 L2064.3,949.9 L2074.7,948.6 L2085.2,947.4 L2095.6,946.2 L2106,945" fill="none" stroke="#ff0000" stroke-width="4.8"/>
<path d="M565.3,1306.6 L565.8,1305.8 L566.2,1305.1 L566.7,1304.3 L567.2,1303.5 L567.6,1302.7 L568.1,1302 L568.5,1301.2 L569,1300.4 L569.5,1299.7 L569.9,1298.9 L570.4,1298.2 L570.9,1297.4 L571.3,1296.7 L571.8,1296 L572.3,1295.2 L572.7,1294.5 L573.2,1293.8 L573.7,1293.1 L574.1,1292.3 L574.6,1291.6 L575,1290.9 L575.5,1290.2 L576,1289.5 L576.4,1288.8 L576.9,1288.1 L577.4,1287.4 L577.8,1286.7 L578.3,1286 L578.8,1285.3 L579.2,1284.6 L579.7,1284 L580.2,1283.3 L580.6,1282.6 L581.1,1281.9 L581.5,1281.3 L582,1280.6 L582.5,1280 L582.9,1279.3 L583.4,1278.7 L583.9,1278 L584.9,1276.6 L585.9,1275.2 L586.9,1273.8 L587.9,1272.5 L588.9,1271.1 L589.9,1269.8 L590.9,1268.5 L591.9,1267.2 L592.9,1265.9 L593.9,1264.7 L594.9,1263.4 L595.9,1262.2 L596.9,1260.9 L597.9,1259.7 L598.9,1258.5 L599.9,1257.3 L600.9,1256.1 L601.9,1255 L602.9,1253.8 L603.9,1252.7 L604.9,1251.5 L605.9,1250.4 L606.9,1249.3 L607.9,1248.2 L608.9,1247.1 L609.9,1246 L610.9,1245 L612,1243.9 L613,1242.9 L614,1241.8 L615,1240.8 L616,1239.8 L617,1238.8 L618,1237.8 L619,1236.8 L620,1235.8 L621,1234.8 L622,1233.9 L623,1232.9 L624,1232 L625,1231.1 L626,1230.2 L627,1229.2 L628,1228.3 L629,1227.5 L630,1226.6 L631,1225.7 L632,1224.8 L633,1224 L634,1223.1 L635,1222.3 L636,1221.4 L637,1220.6 L638,1219.8 L639,1219 L640,1218.2 L641,1217.4 L642,1216.6 L643,1215.8 L644,1215.1 L645,1214.3 L646,1213.5 L647,1212.8 L648,1212 L649,1211.3 L650,1210.6 L651,1209.9 L652,1209.1 L653,1208.4 L654,1207.7 L655,1207 L656,1206.3 L657,1205.7 L658,1205 L659,1204.3 L660,1203.6 L661,1203 L662,1202.3 L663,1201.7 L664,1201.1 L665,1200.4 L666,1199.8 L667,1199.2 L668.1,1198.6 L669.1,1197.9 L670.1,1197.3 L671.1,1196.7 L672.1,1196.1 L673.1,1195.6 L674.1,1195 L675.1,1194.4 L676.1,1193.8 L677.1,1193.2 L678.1,1192.7 L679.1,1192.1 L680.1,1191.6 L681.1,1191 L682.1,1190.5 L683.1,1189.9 L684.1,1189.4 L685.1,1188.9 L686.1,1188.3 L687.1,1187.8 L688.1,1187.3 L689.1,1186.8 L690.1,1186.3 L691.1,1185.8 L692.1,1185.3 L693.1,1184.8 L694.1,1184.3 L695.1,1183.8 L696.1,1183.3 L697.1,1182.9 L698.1,1182.4 L699.1,1181.9 L700.1,1181.5 L701.1,1181 L702.1,1180.5 L703.1,1180.1 L704.1,1179.6 L705.1,1179.2 L706.1,1178.7 L707.1,1178.3 L708.1,1177.9 L709.1,1177.4 L710.1,1177 L711.1,1176.6 L712.1,1176.2 L713.1,1175.7 L714.1,1175.3 L715.1,1174.9 L716.1,1174.5 L717.1,1174.1 L718.1,1173.7 L719.1,1173.3 L720.1,1172.9 L721.1,1172.5 L722.1,1172.1 L723.1,1171.7 L724.2,1171.3 L725.2,1171 L726.2,1170.6 L727.2,1170.2 L728.2,1169.8 L729.2,1169.5 L730.2,1169.1 L731.2,1168.7 L732.2,1168.4 L733.2,1168 L734.2,1167.7 L735.2,1167.3 L736.2,1167 L737.2,1166.6 L738.2,1166.3 L739.2,1165.9 L740.2,1165.6 L741.2,1165.2 L742.2,1164.9 L743.2,1164.6 L744.2,1164.2 L745.2,1163.9 L746.2,1163.6 L747.2,1163.3 L748.2,1162.9 L749.2,1162.6 L750.2,1162.3 L751.2,1162 L752.2,1161.7 L753.2,1161.4 L754.2,1161.1 L755.2,1160.8 L756.2,1160.5 L757.2,1160.1 L758.2,1159.9 L759.2,1159.6 L760.2,1159.3 L761.2,1159 L762.2,1158.7 L763.2,1158.4 L764.2,1158.1 L765.2,1157.8 L766.2,1157.5 L767.2,1157.2 L768.2,1157 L769.2,1156.7 L770.2,1156.4 L771.2,1156.1 L772.2,1155.9 L773.2,1155.6 L774.2,1155.3 L775.2,1155 L776.2,1154.8 L777.2,1154.5 L778.2,1154.2 L779.2,1154 L780.3,1153.7 L781.3,1153.5 L782.3,1153.2 L783.3,1153 L784.3,1152.7 L785.3,1152.4 L786.3,1152.2 L787.3,1151.9 L788.3,1151.7 L789.3,1151.4 L790.3,1151.2 L791.3,1151 L792.3,1150.7 L793.3,1150.5 L794.3,1150.2 L795.3,1150 L796.3,1149.8 L797.3,1149.5 L798.3,1149.3 L799.3,1149.1 L800.3,1148.8 L801.3,1148.6 L802.3,1148.4 L803.3,1148.1 L804.3,1147.9 L805.3,1147.7 L806.3,1147.5 L807.3,1147.2 L808.3,1147 L809.3,1146.8 L810.3,1146.6 L811.3,1146.3 L812.3,1146.1 L813.3,1145.9 L814.3,1145.7 L815.3,1145.5 L816.3,1145.3 L817.3,1145.1 L818.3,1144.8 L819.3,1144.6 L820.3,1144.4 L821.3,1144.2 L822.3,1144 L823.3,1143.8 L824.3,1143.6 L825.3,1143.4 L826.3,1143.2 L827.3,1143 L828.3,1142.8 L829.3,1142.6 L830.3,1142.4 L831.3,1142.2 L832.3,1142 L833.3,1141.8 L834.3,1141.6 L835.3,1141.4 L836.4,1141.2 L837.4,1141 L838.4,1140.8 L839.4,1140.6 L840.4,1140.4 L841.4,1140.2 L842.4,1140 L843.4,1139.8 L844.4,1139.7 L845.4,1139.5 L846.4,1139.3 L847.4,1139.1 L848.4,1138.9 L849.4,1138.7 L850.4,1138.5 L851.4,1138.4 L852.4,1138.2 L853.4,1138 L854.4,1137.8 L855.4,1137.6 L856.4,1137.5 L857.4,1137.3 L858.4,1137.1 L859.4,1136.9 L860.4,1136.7 L861.4,1136.6 L862.4,1136.4 L863.4,1136.2 L866.4,1135.7 L876.8,1133.9 L887.2,1132.2 L897.7,1130.5 L908.1,1128.9 L918.5,1127.3 L928.9,1125.8 L939.3,1124.3 L949.7,1122.8 L960.2,1121.3 L970.6,1119.9 L981,1118.4 L991.4,1117 L1001.8,1115.7 L1012.2,1114.3 L1022.7,1112.9 L1033.1,1111.6 L1043.5,1110.2 L1053.9,1108.9 L1064.3,1107.6 L1074.7,1106.2 L1085.2,1104.9 L1095.6,1103.6 L1106,1102.3 L1116.4,1101 L1126.8,1099.7 L1137.2,1098.4 L1147.7,1097.2 L1158.1,1095.9 L1168.5,1094.6 L1178.9,1093.3 L1189.3,1092 L1199.7,1090.7 L1210.2,1089.5 L1220.6,1088.2 L1231,1086.9 L1241.4,1085.6 L1251.8,1084.4 L1262.2,1083.1 L1272.7,1081.8 L1283.1,1080.6 L1293.5,1079.3 L1303.9,1078 L1314.3,1076.8 L1324.7,1075.5 L1335.2,1074.2 L1345.6,1073 L1356,1071.7 L1366.4,1070.4 L1376.8,1069.2 L1387.2,1067.9 L1397.7,1066.6 L1408.1,1065.4 L1418.5,1064.1 L1428.9,1062.8 L1439.3,1061.6 L1449.7,1060.3 L1460.2,1059 L1470.6,1057.8 L1481,1056.5 L1491.4,1055.2 L1501.8,1054 L1512.2,1052.7 L1522.7,1051.4 L1533.1,1050.2 L1543.5,1048.9 L1553.9,1047.6 L1564.3,1046.4 L1574.7,1045.1 L1585.2,1043.8 L1595.6,1042.6 L1606,1041.3 L1616.4,1040.1 L1626.8,1038.8 L1637.2,1037.5 L1647.7,1036.3 L1658.1,1035 L1668.5,1033.7 L1678.9,1032.5 L1689.3,1031.2 L1699.7,1029.9 L1710.2,1028.7 L1720.6,1027.4 L1731,1026.1 L1741.4,1024.9 L1751.8,1023.6 L1762.2,1022.4 L1772.7,1021.1 L1783.1,1019.8 L1793.5,1018.6 L1803.9,1017.3 L1814.3,1016 L1824.7,1014.8 L1835.2,1013.5 L1845.6,1012.2 L1856,1011 L1866.4,1009.7 L1876.8,1008.4 L1887.2,1007.2 L1897.7,1005.9 L1908.1,1004.6 L1918.5,1003.4 L1928.9,1002.1 L1939.3,1000.9 L1949.7,999.6 L1960.2,998.3 L1970.6,997.1 L1981,995.8 L1991.4,994.5 L2001.8,993.3 L2012.2,992 L2022.7,990.7 L2033.1,989.5 L2043.5,988.2 L2053.9,986.9 L2064.3,985.7 L2074.7,984.4 L2085.2,983.1 L2095.6,981.9 L2106,980.6" fill="none" stroke="#ff0000" stroke-width="4.8"/>
<polygon points="568.4,114.2 587.4,148.6 549.4,148.6" fill="#000"/>
<polygon points="568.4,199.8 587.4,234 549.4,234" fill="#000"/><polygon points="568.4,208.7 580.5,230.4 556.3,230.4" fill="#fff"/>
<rect x="553.9" y="290.8" width="29" height="28.5" fill="#000"/><rect x="558.1" y="295" width="20.6" height="20.1" fill="#fff"/>
<polygon points="549.4,379 587.4,379 568.4,412.8" fill="#000"/>
<rect x="489.6" y="472.6" width="157.6" height="5" fill="#ff0000"/>
<text x="663.5" y="158.6" class="lg">Gel/Alg/Fib</text>
<text x="663.5" y="244.5" class="lg">Gel/Alg/BSA</text>
<text x="663.5" y="328.5" class="lg">Gel/Alg/Fib/HAp</text>
<text x="663.5" y="412.6" class="lg">Gel/Alg/BSA/HAp</text>
<text x="663.5" y="498.4" class="lg">Burger Model</text>

</svg></body></html>
